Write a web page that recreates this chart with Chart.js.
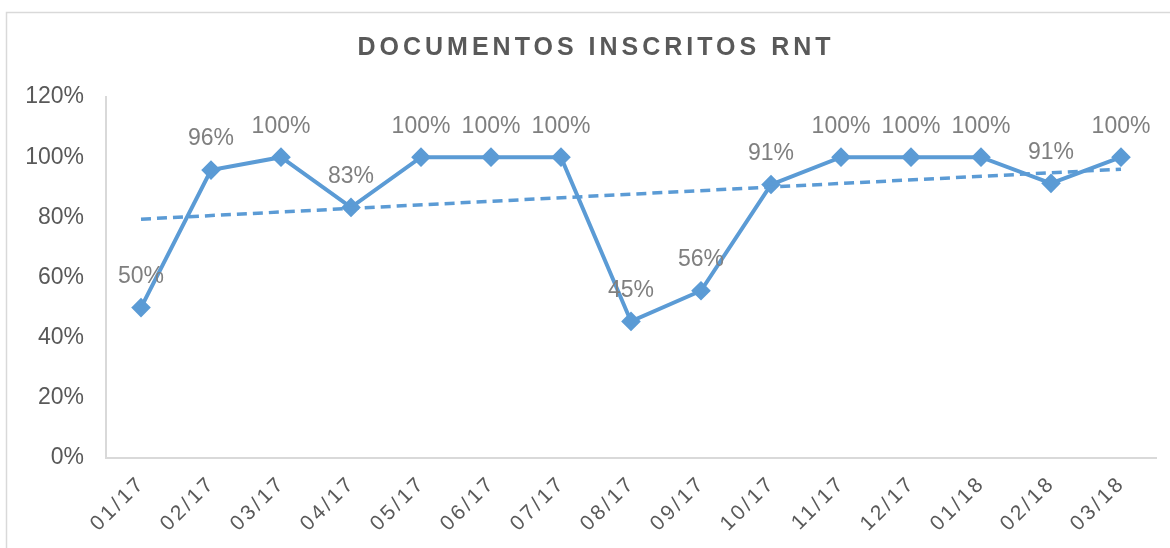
<!DOCTYPE html>
<html>
<head>
<meta charset="utf-8">
<script src="https://cdn.jsdelivr.net/npm/chart.js@4/dist/chart.umd.min.js"></script>
<style>
  body { margin: 0; background: #fff; }
  #wrap { position: relative; width: 1170px; height: 548px; }
</style>
</head>
<body>
<div id="wrap"><canvas id="chartDocumentos"></canvas></div>
<script>
const titulo = 'DOCUMENTOS INSCRITOS RNT'
const meses = ['01/17', '02/17', '03/17', '04/17', '05/17', '06/17', '07/17', '08/17',
    '09/17', '10/17', '11/17', '12/17', '01/18', '02/18', '03/18']
const porcentajes = [50, 95.7, 100, 83.3, 100, 100, 100, 45.4, 55.6, 90.9, 100, 100, 100, 91.3, 100]
// tendencia lineal, solo los extremos
const tendencia = [79.4, null, null, null, null, null, null, null, null, null, null, null, null, null, 96]
const ticksY = [0, 20, 40, 60, 80, 100, 120]

const azul = '#5b9bd5'
const gris = '#595959'
const grisLinea = '#d9d9d9'

const canvas = document.getElementById('chartDocumentos')
const context = canvas.getContext('2d')

const marcoYTitulo = {
    id: 'marcoYTitulo',
    beforeDraw(chart) {
        const ctx = chart.ctx
        ctx.save()
        ctx.strokeStyle = grisLinea
        ctx.lineWidth = 1.5
        ctx.strokeRect(6.5, 12.5, 1200, 600)
        ctx.restore()
    },
    afterDraw(chart) {
        const ctx = chart.ctx
        ctx.save()
        ctx.letterSpacing = '4px'
        ctx.font = 'bold 25px "Liberation Sans", Arial, sans-serif'
        ctx.fillStyle = gris
        ctx.textAlign = 'center'
        ctx.textBaseline = 'middle'
        ctx.fillText(titulo, 596, 48)
        ctx.restore()
    }
}

const etiquetas = {
    id: 'etiquetas',
    afterDatasetsDraw(chart) {
        const ctx = chart.ctx
        const meta = chart.getDatasetMeta(0)
        ctx.save()
        ctx.font = '23px "Liberation Sans", Arial, sans-serif'
        ctx.fillStyle = '#7f7f7f'
        ctx.textAlign = 'center'
        ctx.textBaseline = 'middle'
        meta.data.forEach((punto, i) => {
            ctx.fillText(Math.round(porcentajes[i]) + '%', punto.x, punto.y - 31)
        })
        ctx.restore()
    }
}

// etiquetas del eje x con espaciado entre letras
const espaciarEtiquetas = scale => {
    scale.height = 90
    if (scale._espaciado) return
    const dibujar = scale.drawLabels.bind(scale)
    scale.drawLabels = area => {
        const ctx = scale.ctx
        ctx.save()
        ctx.letterSpacing = '3px'
        ctx.translate(1, -1)
        dibujar(area)
        ctx.restore()
    }
    scale._espaciado = true
}

const chartDocumentos = new Chart(context, {
    type: 'line',
    data: {
        labels: meses,
        datasets: [
            {
                label: 'Documentos',
                data: porcentajes,
                borderColor: azul,
                backgroundColor: azul,
                borderWidth: 4,
                pointStyle: 'rectRot',
                pointRadius: 7,
                pointBackgroundColor: azul,
                pointBorderColor: azul,
                tension: 0,
                order: 1
            },
            {
                label: 'Tendencia',
                data: tendencia,
                borderColor: azul,
                borderWidth: 3.5,
                borderDash: [10, 6],
                pointRadius: 0,
                spanGaps: true,
                order: 0
            }
        ]
    },
    options: {
        responsive: true,
        maintainAspectRatio: false,
        animation: false,
        layout: { padding: { top: 97, right: 14, bottom: 0, left: 0 } },
        plugins: {
            legend: { display: false },
            title: { display: false },
            tooltip: { enabled: false }
        },
        scales: {
            x: {
                offset: true,
                grid: { display: false, drawTicks: false },
                border: { display: true, color: grisLinea, width: 2 },
                ticks: {
                    color: gris,
                    font: { size: 21, family: '"Liberation Sans", Arial, sans-serif' },
                    maxRotation: 45,
                    minRotation: 45,
                    padding: 14,
                    autoSkip: false
                },
                afterFit: espaciarEtiquetas
            },
            y: {
                min: 0,
                max: 120,
                afterBuildTicks: scale => { scale.ticks = ticksY.map(v => ({ value: v })) },
                grid: { display: false, drawTicks: false },
                border: { display: true, color: grisLinea, width: 2 },
                ticks: {
                    color: gris,
                    padding: 22,
                    font: { size: 23, family: '"Liberation Sans", Arial, sans-serif' },
                    callback: v => v + '%'
                },
                afterFit: scale => { scale.width = 106 }
            }
        }
    },
    plugins: [marcoYTitulo, etiquetas]
})
</script>
</body>
</html>
